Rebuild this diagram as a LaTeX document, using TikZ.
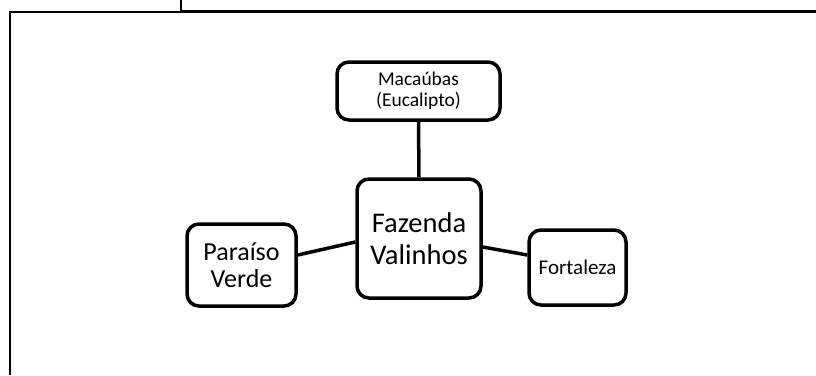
\documentclass[tikz,border=0pt]{standalone}
\usepackage{fontspec}
\setmainfont{Carlito}

\begin{document}
\begin{tikzpicture}[x=1pt, y=-1pt,
		caixa/.style = {draw, line width=3.5pt, rounded corners=12pt, fill=white, align=center, inner sep=2pt},
		ligacao/.style = {line width=3.5pt}]
		\useasboundingbox (0, 0) rectangle (816, 375);
		% moldura
		\draw [line width=1.5pt] (181, 0) -- (181, 10.5) -- (816, 10.5);
		\draw [line width=2pt] (10, 375) -- (10, 12) -- (816, 12);
		% caixas
		\node [caixa, minimum width=163pt, minimum height=58pt, font=\fontsize{19.5}{20.5}\selectfont] (macaubas) at (418.5, 91) {Macaúbas\\(Eucalipto)};
		\node [caixa, minimum width=124pt, minimum height=119pt, font=\fontsize{28.5}{32}\selectfont] (valinhos) at (419, 238.5) {Fazenda\\Valinhos};
		\node [caixa, minimum width=109pt, minimum height=82pt, font=\fontsize{26}{27.5}\selectfont] (paraiso) at (241.5, 265) {Paraíso\\Verde};
		\node [caixa, minimum width=97pt, minimum height=75pt, font=\fontsize{21}{22}\selectfont] (fortaleza) at (577.5, 267.5) {Fortaleza};
		% ligacoes
		\draw [ligacao] (macaubas.south) -- (valinhos.north);
		\draw [ligacao] ([yshift=10pt]paraiso.east) -- ([yshift=-3.5pt]valinhos.west);
		\draw [ligacao] ([yshift=-8.5pt]valinhos.east) -- ([yshift=12.5pt]fortaleza.west);
	\end{tikzpicture}
\end{document}
